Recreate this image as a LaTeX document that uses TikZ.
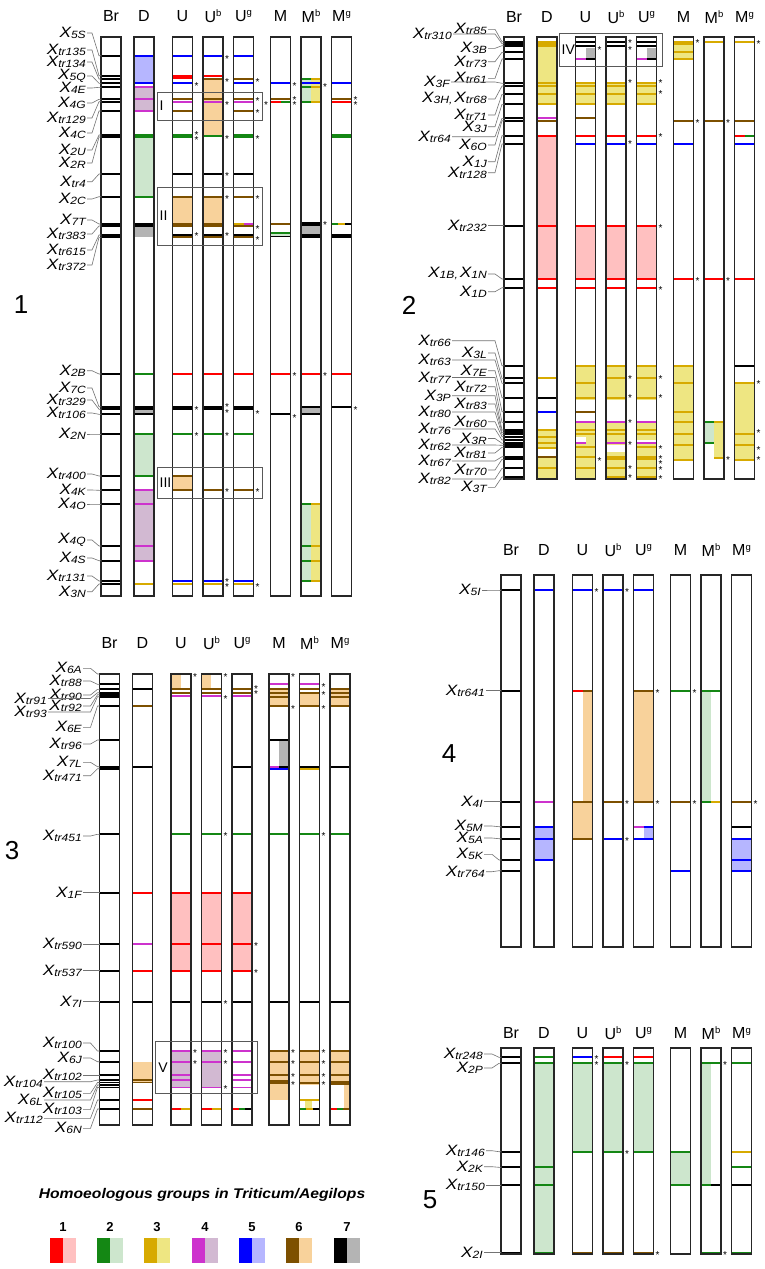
\documentclass[tikz,border=0pt]{standalone}
\usepackage{fontspec}
\setmainfont{Liberation Sans}
\setsansfont{Liberation Sans}
\usepackage{graphicx}
\definecolor{d1}{RGB}{255,0,0}\definecolor{l1}{RGB}{255,192,192}
\definecolor{d2}{RGB}{20,135,20}\definecolor{l2}{RGB}{205,230,205}
\definecolor{d3}{RGB}{215,170,0}\definecolor{l3}{RGB}{238,230,130}
\definecolor{d4}{RGB}{205,50,205}\definecolor{l4}{RGB}{210,185,210}
\definecolor{d5}{RGB}{0,0,255}\definecolor{l5}{RGB}{182,182,255}
\definecolor{d6}{RGB}{125,80,0}\definecolor{l6}{RGB}{248,210,155}
\definecolor{d7}{RGB}{0,0,0}\definecolor{l7}{RGB}{180,180,180}
\newcounter{nnc}
\def\kBr{0}\def\kD{33}\def\kU{71.5}\def\kUb{102}\def\kUg{132.5}\def\kM{169.5}\def\kMb{200}\def\kMg{230.5}
\newcommand{\mk}[3]{\draw[ml,#3] ({\bx+#1},#2) -- ({\bx+#1+20},#2);}
\newcommand{\mkh}[4]{\draw[ml,#3] ({\bx+#1},#2) -- ({\bx+#1+10},#2);\draw[ml,#4] ({\bx+#1+10},#2) -- ({\bx+#1+20},#2);}
\newcommand{\mkt}[5]{\draw[ml,#3] ({\bx+#1},#2) -- ({\bx+#1+6.7},#2);\draw[ml,#4] ({\bx+#1+6.7},#2) -- ({\bx+#1+13.3},#2);\draw[ml,#5] ({\bx+#1+13.3},#2) -- ({\bx+#1+20},#2);}
\newcommand{\mkL}[3]{\draw[ml,#3] ({\bx+#1},#2) -- ({\bx+#1+10},#2);}
\newcommand{\mkR}[3]{\draw[ml,#3] ({\bx+#1+10},#2) -- ({\bx+#1+20},#2);}
\newcommand{\fl}[4]{\fill[#4] ({\bx+#1},#2) rectangle ({\bx+#1+20},#3);}
\newcommand{\flL}[4]{\fill[#4] ({\bx+#1},#2) rectangle ({\bx+#1+10},#3);}
\newcommand{\flR}[4]{\fill[#4] ({\bx+#1+10},#2) rectangle ({\bx+#1+20},#3);}
\newcommand{\sk}[2]{\stepcounter{nnc}\node[astk] (s\arabic{nnc}) at ({\bx+#1+24},{#2+5.5}) {*};}
\newcommand{\cols}[2]{\foreach \cq in {\kBr,\kD,\kU,\kUb,\kUg,\kM,\kMb,\kMg}{\draw[colb] ({\bx+\cq},#1) rectangle ({\bx+\cq+20},#2);}}
\newcommand{\spx}[1]{\raisebox{5.5pt}{\fontsize{9.5}{9.5}\selectfont #1}}
\newcommand{\hdrs}[2]{%
 \node[hd] (#2br) at ({\bx+\kBr+10},#1) {Br};
 \node[hd] (#2d) at ({\bx+\kD+10},#1) {D};
 \node[hd] (#2u) at ({\bx+\kU+10},#1) {U};
 \node[hd] (#2ub) at ({\bx+\kUb+10},#1) {U\spx{b}};
 \node[hd] (#2ug) at ({\bx+\kUg+10},#1) {U\spx{g}};
 \node[hd] (#2m) at ({\bx+\kM+10},#1) {M};
 \node[hd] (#2mb) at ({\bx+\kMb+10},#1) {M\spx{b}};
 \node[hd] (#2mg) at ({\bx+\kMg+10},#1) {M\spx{g}};}
\newcommand{\X}[1]{\scalebox{1.15}[1]{\fontsize{15}{15}\selectfont\itshape X\raisebox{-1pt}{\fontsize{10.5}{10.5}\selectfont #1}}}
\newcommand{\lab}[5]{\node[lbl] (#1) at (#2,#3) {#5};\draw[leader] (#1.east) -- ({\bx-9},#3) -- ({\bx-2},#4) -- ({\bx},#4);}
\newcommand{\grp}[6]{\draw[grpbox] (#2,#3) rectangle (#4,#5);\node[boxl] (#1) at ({#2+2.5},{(#3+#5)/2}) {#6};}
\begin{document}
\begin{tikzpicture}[x=1pt,y=-1pt,
 ml/.style={line width=1.7pt},
 colb/.style={draw=black!85,line width=1.1pt},
 astk/.style={font=\fontsize{10}{10}\selectfont,inner sep=0pt,anchor=base},
 hd/.style={font=\fontsize{16}{16}\selectfont,inner sep=0pt},
 lbl/.style={inner sep=0pt,anchor=east},
 leader/.style={draw=black!55,line width=0.6pt,shorten <=1.2pt},
 grpbox/.style={draw=black!65,line width=0.8pt},
 boxl/.style={font=\fontsize{14}{14}\selectfont,inner sep=0pt,anchor=west},
 pnum/.style={font=\fontsize{26}{26}\selectfont,inner sep=0pt},
 lgt/.style={font=\bfseries\itshape\fontsize{14}{14}\selectfont,inner sep=0pt},
 lgn/.style={font=\bfseries\fontsize{13}{13}\selectfont,inner sep=0pt}]
\useasboundingbox (0,0) rectangle (764,1269);
\fill[white] (0,0) rectangle (764,1269);
%%%%%%%%%%%%%%%%%%%% PANEL 1
\def\bx{101}
\fl{\kD}{55.7}{83.3}{l5}\fl{\kD}{87.3}{111}{l4}\fl{\kD}{137}{196.7}{l2}\fl{\kD}{226}{237.3}{l7}
\fl{\kD}{406.7}{414.3}{l7}\fl{\kD}{434}{476}{l2}\fl{\kD}{490.3}{560.7}{l4}
\fl{\kUb}{79}{136}{l6}\fl{\kU}{196.7}{225}{l6}\fl{\kUb}{196.7}{225}{l6}\fl{\kU}{476}{490.3}{l6}
\fl{\kU}{406.7}{409.3}{l7}\fl{\kUb}{406.7}{409.3}{l7}\fl{\kUg}{406.7}{409.3}{l7}
\flL{\kMb}{79}{101.7}{l2}\flR{\kMb}{79}{101.7}{l3}
\fl{\kM}{233}{235.5}{l2}\fl{\kMb}{224}{237.3}{l7}\fl{\kMg}{235}{237.3}{l7}\fl{\kMb}{406.7}{414.3}{l7}
\flL{\kMb}{504}{581}{l2}\flR{\kMb}{504}{581}{l3}
\foreach \y in {55.7,75.7,79,83.3,87.3,99.3,101.7,111,135,137,174,196.7,224,226,235,237.3,374,406.7,409.3,414.3,434,476,490.3,504,546,560.7,581,584}{\mk{\kBr}{\y}{d7}}
\mk{\kD}{55.7}{d5}\mk{\kD}{83.3}{d5}\mk{\kD}{87.3}{d4}\mk{\kD}{99.3}{d4}\mk{\kD}{111}{d4}\mk{\kD}{135}{d2}\mk{\kD}{137}{d2}\mk{\kD}{196.7}{d2}\mk{\kD}{224}{d7}\mk{\kD}{226}{d7}
\mk{\kD}{374}{d2}\mk{\kD}{406.7}{d7}\mk{\kD}{409.3}{d7}\mk{\kD}{414.3}{d7}\mk{\kD}{434}{d2}\mk{\kD}{476}{d2}\mk{\kD}{490.3}{d4}\mk{\kD}{504}{d4}\mk{\kD}{546}{d4}\mk{\kD}{560.7}{d4}\mk{\kD}{584}{d3}
\mk{\kU}{55.7}{d5}\mk{\kU}{75.7}{d1}\mk{\kU}{77.9}{d1}\mk{\kU}{83.3}{d5}\mk{\kU}{99.3}{d6}\mk{\kU}{101.7}{d4}\mk{\kU}{111}{d6}\mk{\kU}{135}{d2}\mk{\kU}{137}{d2}\mk{\kU}{174}{d7}\mk{\kU}{196.7}{d6}\mk{\kU}{224}{d6}\mk{\kU}{226}{d6}\mk{\kU}{235}{d7}\mk{\kU}{237.3}{d6}
\mk{\kU}{374}{d1}\mk{\kU}{406.7}{d7}\mk{\kU}{409.3}{d7}\mk{\kU}{434}{d2}\mk{\kU}{476}{d6}\mk{\kU}{490.3}{d6}\mk{\kU}{581}{d5}\mk{\kU}{584}{d3}
\mk{\kUb}{55.7}{d5}\mk{\kUb}{75.7}{d1}\mk{\kUb}{79}{d6}\mk{\kUb}{99.3}{d6}\mk{\kUb}{101.7}{d4}\mk{\kUb}{136}{d2}\mk{\kUb}{174}{d7}\mk{\kUb}{196.7}{d6}\mk{\kUb}{224}{d6}\mk{\kUb}{226}{d6}\mk{\kUb}{235}{d7}\mk{\kUb}{237.3}{d6}
\mk{\kUb}{374}{d1}\mk{\kUb}{406.7}{d7}\mk{\kUb}{409.3}{d7}\mk{\kUb}{434}{d2}\mk{\kUb}{490.3}{d6}\mk{\kUb}{581}{d5}\mk{\kUb}{584}{d3}
\mk{\kUg}{55.7}{d5}\mk{\kUg}{79}{d6}\mk{\kUg}{83.3}{d5}\mk{\kUg}{99.3}{d6}\mk{\kUg}{101.7}{d4}\mk{\kUg}{111}{d6}\mk{\kUg}{135}{d2}\mk{\kUg}{137}{d2}\mk{\kUg}{174}{d7}\mk{\kUg}{196.7}{d6}\mkh{\kUg}{224}{d3}{d4}\mk{\kUg}{226}{d6}\mk{\kUg}{235}{d7}\mk{\kUg}{237.3}{d6}
\mk{\kUg}{374}{d1}\mk{\kUg}{406.7}{d7}\mk{\kUg}{409.3}{d7}\mk{\kUg}{434}{d2}\mk{\kUg}{490.3}{d6}\mk{\kUg}{581}{d5}\mk{\kUg}{584}{d3}
\mk{\kM}{83.3}{d5}\mk{\kM}{99.3}{d6}\mkh{\kM}{101.7}{d1}{d2}\mk{\kM}{224}{d6}\mk{\kM}{233}{d2}\mk{\kM}{236.5}{d7}\mk{\kM}{374}{d1}\mk{\kM}{414.3}{d7}
\mkh{\kMb}{79}{d2}{d3}\mk{\kMb}{83.3}{d5}\mkh{\kMb}{87.3}{d2}{d3}\mkh{\kMb}{101.7}{d2}{d3}\mk{\kMb}{223}{d7}\mk{\kMb}{225}{d7}\mk{\kMb}{235}{d7}\mk{\kMb}{237.3}{d7}
\mk{\kMb}{374}{d1}\mk{\kMb}{406.7}{d7}\mk{\kMb}{414.3}{d7}\mkh{\kMb}{504}{d2}{d3}\mkh{\kMb}{546}{d2}{d3}\mkh{\kMb}{560.7}{d2}{d3}\mkh{\kMb}{581}{d2}{d3}
\mk{\kMg}{83.3}{d5}\mk{\kMg}{99.3}{d6}\mk{\kMg}{101.7}{d1}\mk{\kMg}{135}{d2}\mk{\kMg}{137}{d2}\mkt{\kMg}{224}{d2}{d3}{d7}\mk{\kMg}{235}{d7}\mk{\kMg}{237.3}{d7}\mk{\kMg}{374}{d1}\mk{\kMg}{406.7}{d7}
\cols{37}{596}
\sk{\kU}{84.3}\sk{\kU}{133.3}\sk{\kU}{137.5}\sk{\kU}{234}\sk{\kU}{407.7}\sk{\kU}{434}
\sk{\kUb}{56.7}\sk{\kUb}{79.7}\sk{\kUb}{102.7}\sk{\kUb}{136.7}\sk{\kUb}{174}\sk{\kUb}{196.7}\sk{\kUb}{234}\sk{\kUb}{405.3}\sk{\kUb}{411}\sk{\kUb}{434}\sk{\kUb}{490.3}\sk{\kUb}{579.5}\sk{\kUb}{585}
\sk{\kUg}{80}\sk{\kUg}{99.3}\sk{\kUg}{111}\sk{\kUg}{136.7}\sk{\kUg}{196.7}\sk{\kUg}{226.7}\sk{\kUg}{237.7}\sk{\kUg}{412}\sk{\kUg}{490.3}\sk{\kUg}{585}
\sk{\kM}{84}\sk{\kM}{97.9}\sk{\kM}{103.4}\sk{\kM}{373.5}\sk{\kM}{416}
\sk{\kMb}{85}\sk{\kMb}{223.3}\sk{\kMb}{373.5}
\sk{\kMg}{97.9}\sk{\kMg}{102.9}\sk{\kMg}{407.8}
\node[astk] (sx1) at (266,108.5) {*};
\grp{g1}{157}{92}{262}{120}{I}
\grp{g2}{157}{187}{262}{245}{II}
\grp{g3}{157}{467}{262}{498}{III}
\hdrs{16}{h1}
\lab{a1}{86}{33}{55.7}{\X{5S}}
\lab{a2}{86}{50}{75.7}{\X{tr135}}
\lab{a3}{86}{62}{79}{\X{tr134}}
\lab{a4}{86}{76}{83.3}{\X{5Q}}
\lab{a5}{86}{88}{87.3}{\X{4E}}
\lab{a6}{86}{103}{99.3}{\X{4G}}
\lab{a7}{86}{118}{101.7}{\X{tr129}}
\lab{a8}{86}{133}{111}{\X{4C}}
\lab{a9}{86}{150}{135}{\X{2U}}
\lab{a10}{86}{163}{137}{\X{2R}}
\lab{a11}{86}{181.7}{174}{\X{tr4}}
\lab{a12}{86}{199}{196.7}{\X{2C}}
\lab{a13}{86}{220}{224}{\X{7T}}
\lab{a14}{86}{234}{226}{\X{tr383}}
\lab{a15}{86}{250}{235}{\X{tr615}}
\lab{a16}{86}{265}{237.3}{\X{tr372}}
\lab{a17}{86}{370.7}{374}{\X{2B}}
\lab{a18}{86}{388}{406.7}{\X{7C}}
\lab{a19}{86}{400}{409.3}{\X{tr329}}
\lab{a20}{86}{413}{414.3}{\X{tr106}}
\lab{a21}{86}{434}{434}{\X{2N}}
\lab{a22}{86}{474}{476}{\X{tr400}}
\lab{a23}{86}{490}{490.3}{\X{4K}}
\lab{a24}{86}{504}{504}{\X{4O}}
\lab{a25}{86}{540}{546}{\X{4Q}}
\lab{a26}{86}{558}{560.7}{\X{4S}}
\lab{a27}{86}{576}{581}{\X{tr131}}
\lab{a28}{86}{591.7}{584}{\X{3N}}
\node[pnum] (n1) at (21,305) {1};
%%%%%%%%%%%%%%%%%%%% PANEL 2
\def\bx{504}
\fl{\kD}{41.7}{104.3}{l3}\fl{\kD}{135.7}{279}{l1}\fl{\kD}{430}{448}{l3}\fl{\kD}{456.7}{479}{l3}
\flR{\kU}{47.5}{59}{l7}\fl{\kU}{83.3}{104.3}{l3}\fl{\kU}{225.7}{279}{l1}\fl{\kU}{365.7}{400}{l3}\fl{\kU}{422.3}{479}{l3}
\fill[white] ({\bx+\kU},437) rectangle ({\bx+\kU+10},443.3);
\fl{\kUb}{83.3}{104.3}{l3}\fl{\kUb}{225.7}{279}{l1}\fl{\kUb}{365.7}{400}{l3}\fl{\kUb}{422.3}{445}{l3}\fl{\kUb}{451.7}{479}{l3}
\flR{\kUg}{47.5}{59}{l7}\fl{\kUg}{83.3}{104.3}{l3}\fl{\kUg}{225.7}{279}{l1}\fl{\kUg}{365.7}{400}{l3}\fl{\kUg}{422.3}{440}{l3}\fl{\kUg}{443.3}{479}{l3}
\fl{\kM}{41.7}{59}{l3}\fl{\kM}{365.7}{460}{l3}
\flL{\kMb}{422.3}{443.3}{l2}\flR{\kMb}{422.3}{458.3}{l3}
\fl{\kMg}{383.3}{460}{l3}
\foreach \y in {41.7,43.7,45.7,52.3,59,83.3,86,94.3,104.3,118.3,120.7,135.7,144,225.7,279,287.7,365.7,378.3,383.3,397.7,411.7,422.3,430,432.3,434.3,436.7,440,443.3,445.3,447.3,456.7,459.3,468.3,477}{\mk{\kBr}{\y}{d7}}
\foreach \y in {41.7,43.7,45.7,83.3,86,94.3,104.3,378.3,430,436.7,443.3,448,468.3}{\mk{\kD}{\y}{d3}}
\mk{\kD}{118.3}{d4}\mk{\kD}{120.7}{d6}\mk{\kD}{135.7}{d1}\mk{\kD}{225.7}{d1}\mk{\kD}{279}{d1}\mk{\kD}{287.7}{d1}\mk{\kD}{397.7}{d7}\mk{\kD}{411.7}{d5}\mk{\kD}{456.7}{d6}
\mk{\kU}{41.7}{d7}\mk{\kU}{45.7}{d7}\mkh{\kU}{59}{d4}{d7}
\foreach \y in {83.3,86,94.3,104.3,365.7,383.3,397.7,430,434.3,447.3,456.7,468.3}{\mk{\kU}{\y}{d3}}
\mk{\kU}{118.3}{d6}\mk{\kU}{135.7}{d1}\mk{\kU}{144}{d5}\mk{\kU}{225.7}{d1}\mk{\kU}{279}{d1}\mk{\kU}{287.7}{d1}\mk{\kU}{411.7}{d6}\mk{\kU}{422.3}{d4}\mkL{\kU}{443.3}{d4}
\mk{\kUb}{41.7}{d7}\mk{\kUb}{45.7}{d7}
\foreach \y in {83.3,86,94.3,104.3,365.7,378.3,397.7,430,434.3,456.7,459.3,468.3,477}{\mk{\kUb}{\y}{d3}}
\mk{\kUb}{135.7}{d1}\mk{\kUb}{144}{d5}\mk{\kUb}{225.7}{d1}\mk{\kUb}{279}{d1}\mk{\kUb}{287.7}{d1}\mk{\kUb}{422.3}{d4}\mk{\kUb}{443.3}{d4}
\mk{\kUg}{41.7}{d7}\mk{\kUg}{45.7}{d7}\mkh{\kUg}{59}{d4}{d7}
\foreach \y in {83.3,86,94.3,104.3,365.7,378.3,397.7,430,434.3,447.3,456.7,459.3,468.3,477}{\mk{\kUg}{\y}{d3}}
\mk{\kUg}{135.7}{d1}\mk{\kUg}{144}{d5}\mk{\kUg}{225.7}{d1}\mk{\kUg}{279}{d1}\mk{\kUg}{287.7}{d1}\mk{\kUg}{422.3}{d4}\mk{\kUg}{443.3}{d4}
\foreach \y in {41.7,44,52.3,59,365.7,383.3,411.7,422.3,434.3,445.3,460}{\mk{\kM}{\y}{d3}}
\mk{\kM}{120.7}{d6}\mk{\kM}{144}{d5}\mk{\kM}{279}{d1}
\mk{\kMb}{41.7}{d3}\mk{\kMb}{120.7}{d6}\mk{\kMb}{279}{d1}\mkh{\kMb}{422.3}{d2}{d3}\mkL{\kMb}{443.3}{d2}\mkR{\kMb}{458.3}{d3}
\mk{\kMg}{41.7}{d3}\mk{\kMg}{120.7}{d6}\mkh{\kMg}{135.7}{d1}{d2}\mk{\kMg}{144}{d5}\mk{\kMg}{279}{d1}\mk{\kMg}{365.7}{d7}
\foreach \y in {383.3,434.3,445.3,460}{\mk{\kMg}{\y}{d3}}
\cols{37}{479}
\sk{\kU}{47.7}\sk{\kU}{459.3}
\foreach \y in {41,47.7,81,141.7,376.7,395.7,420.7,442.7,466.7,476}{\sk{\kUb}{\y}}
\foreach \y in {81,91.7,135,225.7,287.7,376.7,395.7,446.7,456.7,462.3,468.3,476.7}{\sk{\kUg}{\y}}
\sk{\kM}{41}\sk{\kM}{120.7}\sk{\kM}{279}
\sk{\kMb}{120.7}\sk{\kMb}{279}\sk{\kMb}{458.3}
\sk{\kMg}{42}\sk{\kMg}{381.7}\sk{\kMg}{431}\sk{\kMg}{448.3}\sk{\kMg}{458.3}
\grp{g4}{559}{33}{662}{66}{IV}
\hdrs{17}{h2}
\lab{b1}{487}{29.3}{41.7}{\X{tr85}}
\lab{b2}{452}{34}{43.7}{\X{tr310}}
\lab{b3}{487}{48.3}{45.7}{\X{3B}}
\lab{b4}{487}{61.7}{52.3}{\X{tr73}}
\lab{b5}{487}{78.3}{59}{\X{tr61}}
\lab{b6}{450}{82}{83.3}{\X{3F}}
\lab{b7}{487}{99}{86}{\X{3H,}\hspace{2pt}\X{tr68}}
\lab{b8}{487}{115}{94.3}{\X{tr71}}
\lab{b9}{487}{126.7}{104.3}{\X{3J}}
\lab{b10}{451}{136.7}{118.3}{\X{tr64}}
\lab{b11}{487}{145}{120.7}{\X{6O}}
\lab{b12}{487}{161.7}{135.7}{\X{1J}}
\lab{b13}{487}{172.7}{144}{\X{tr128}}
\lab{b14}{487}{225.7}{225.7}{\X{tr232}}
\lab{b15}{487}{274}{279}{\X{1B,}\hspace{2pt}\X{1N}}
\lab{b16}{487}{291.7}{287.7}{\X{1D}}
\lab{b17}{451}{340.7}{365.7}{\X{tr66}}
\lab{b18}{487}{353}{378.3}{\X{3L}}
\lab{b19}{451}{360}{383.3}{\X{tr63}}
\lab{b20}{487}{370.7}{397.7}{\X{7E}}
\lab{b21}{451}{377.5}{411.7}{\X{tr77}}
\lab{b22}{487}{386.7}{422.3}{\X{tr72}}
\lab{b23}{451}{395.7}{430}{\X{3P}}
\lab{b24}{487}{404}{432.3}{\X{tr83}}
\lab{b25}{451}{412}{434.3}{\X{tr80}}
\lab{b26}{487}{421.7}{436.7}{\X{tr60}}
\lab{b27}{451}{429}{440}{\X{tr76}}
\lab{b28}{487}{438.5}{443.3}{\X{3R}}
\lab{b29}{451}{445}{445.3}{\X{tr62}}
\lab{b30}{487}{453}{447.3}{\X{tr81}}
\lab{b31}{451}{461}{456.7}{\X{tr67}}
\lab{b32}{487}{470}{459.3}{\X{tr70}}
\lab{b33}{451}{479}{468.3}{\X{tr82}}
\lab{b34}{487}{487.3}{477}{\X{3T}}
\node[pnum] (n2) at (409,305) {2};
%%%%%%%%%%%%%%%%%%%% PANEL 3
\def\bx{99.5}
\fl{\kD}{1061.7}{1081.7}{l6}
\fill[l6] ({\bx+\kU},674) rectangle ({\bx+\kU+9.5},689.3);\fl{\kU}{892.7}{970.7}{l1}\fl{\kU}{1051}{1087.5}{l4}
\fill[l6] ({\bx+\kUb},674) rectangle ({\bx+\kUb+9.5},689.3);\fl{\kUb}{892.7}{970.7}{l1}\fl{\kUb}{1051}{1087.5}{l4}
\fl{\kUg}{892.7}{970.7}{l1}
\fl{\kM}{689.3}{706}{l6}\flR{\kM}{740}{766.7}{l7}\fl{\kM}{1051}{1100}{l6}
\fl{\kMb}{692.7}{706}{l6}\fl{\kMb}{1051}{1085}{l6}\fill[l3] ({\bx+\kMb+5},1100) rectangle ({\bx+\kMb+12},1109);
\fl{\kMg}{689.3}{706}{l6}\fl{\kMg}{1051}{1083}{l6}\fill[l6] ({\bx+\kMg+14},1083) rectangle ({\bx+\kMg+20},1109);
\foreach \y in {674,684.3,689.3,692.7,694.7,696.7,706,740,766.7,768.7,834.3,892.7,944,970.7,1001.7,1051,1061.7,1075,1080,1082.5,1085,1087.5,1100,1109}{\mk{\kBr}{\y}{d7}}
\mk{\kD}{674}{d6}\mk{\kD}{689.3}{d7}\mk{\kD}{706}{d6}\mk{\kD}{766.7}{d7}\mk{\kD}{892.7}{d1}\mk{\kD}{944}{d4}\mk{\kD}{970.7}{d1}\mk{\kD}{1001.7}{d7}\mk{\kD}{1080}{d6}\mk{\kD}{1082.5}{d6}\mk{\kD}{1100}{d1}\mk{\kD}{1109}{d6}
\mk{\kU}{674}{d7}\mk{\kU}{689.3}{d6}\mk{\kU}{692.7}{d6}\mk{\kU}{696}{d4}\mk{\kU}{834.3}{d2}\mk{\kU}{892.7}{d1}\mk{\kU}{944}{d1}\mk{\kU}{970.7}{d1}\mk{\kU}{1001.7}{d7}
\foreach \y in {1051,1061.7,1075,1080,1087.5}{\mk{\kU}{\y}{d4}}\mkh{\kU}{1109}{d1}{d3}
\mk{\kUb}{674}{d7}\mk{\kUb}{689.3}{d6}\mk{\kUb}{692.7}{d6}\mk{\kUb}{696}{d4}\mk{\kUb}{834.3}{d2}\mk{\kUb}{892.7}{d1}\mk{\kUb}{944}{d1}\mk{\kUb}{970.7}{d1}\mk{\kUb}{1001.7}{d7}
\foreach \y in {1051,1061.7,1087.5}{\mk{\kUb}{\y}{d4}}\mkh{\kUb}{1109}{d1}{d3}
\mk{\kUg}{674}{d7}\mk{\kUg}{689.3}{d6}\mk{\kUg}{692.7}{d6}\mk{\kUg}{696}{d4}\mk{\kUg}{766.7}{d7}\mk{\kUg}{834.3}{d2}\mk{\kUg}{892.7}{d1}\mk{\kUg}{944}{d1}\mk{\kUg}{970.7}{d1}\mk{\kUg}{1001.7}{d7}
\foreach \y in {1051,1061.7,1075,1080,1087.5}{\mk{\kUg}{\y}{d4}}\mkt{\kUg}{1109}{d1}{d2}{d7}
\mk{\kM}{674}{d7}\mk{\kM}{684.3}{d4}\foreach \y in {689.3,692.7,696.7,706}{\mk{\kM}{\y}{d6}}\mk{\kM}{740}{d7}\mkh{\kM}{766.7}{d4}{d7}\mk{\kM}{768.7}{d5}\mk{\kM}{834.3}{d2}\mk{\kM}{1001.7}{d7}
\foreach \y in {1051,1061.7,1075,1081,1083}{\mk{\kM}{\y}{d6}}
\mk{\kMb}{674}{d7}\mk{\kMb}{684.3}{d4}\foreach \y in {689.3,692.7,706}{\mk{\kMb}{\y}{d6}}\mk{\kMb}{766.7}{d7}\mk{\kMb}{768.7}{d3}\mk{\kMb}{834.3}{d2}\mk{\kMb}{1001.7}{d7}
\foreach \y in {1051,1061.7,1075,1083}{\mk{\kMb}{\y}{d6}}\mk{\kMb}{1100}{d3}\mkt{\kMb}{1109}{d2}{d3}{d7}
\mk{\kMg}{674}{d7}\foreach \y in {689.3,692.7,696.7,706}{\mk{\kMg}{\y}{d6}}\mk{\kMg}{766.7}{d7}\mk{\kMg}{834.3}{d2}\mk{\kMg}{1001.7}{d7}
\foreach \y in {1051,1061.7,1075,1082,1084}{\mk{\kMg}{\y}{d6}}\mkt{\kMg}{1109}{d1}{d2}{d6}
\cols{674}{1125}
\sk{\kU}{675}\sk{\kU}{1051}\sk{\kU}{1061.7}
\foreach \y in {675,697.3,834.3,1001.7,1051,1061.7,1086.7}{\sk{\kUb}{\y}}
\sk{\kUg}{687}\sk{\kUg}{691.5}\sk{\kUg}{944}\sk{\kUg}{970.7}
\foreach \y in {675,707,1051,1061.7,1075,1083}{\sk{\kM}{\y}}
\foreach \y in {685,693.3,706.7,834.3,1051,1061.7,1075,1083}{\sk{\kMb}{\y}}
\grp{g5}{155.7}{1041.7}{257.7}{1093.3}{V}
\hdrs{643}{h3}
\lab{c1}{82}{668.3}{674}{\X{6A}}
\lab{c2}{82}{681}{684.3}{\X{tr88}}
\lab{c3}{82}{695}{689.3}{\X{tr90}}
\lab{c4}{47}{698.5}{692.7}{\X{tr91}}
\lab{c5}{82}{706}{694.7}{\X{tr92}}
\lab{c6}{47}{712}{696.7}{\X{tr93}}
\lab{c7}{82}{727.3}{706}{\X{6E}}
\lab{c8}{82}{744}{740}{\X{tr96}}
\lab{c9}{82}{762.3}{766.7}{\X{7L}}
\lab{c10}{82}{775.7}{768.7}{\X{tr471}}
\lab{c11}{82}{836}{834.3}{\X{tr451}}
\lab{c12}{82}{892.7}{892.7}{\X{1F}}
\lab{c13}{82}{944}{944}{\X{tr590}}
\lab{c14}{82}{970.7}{970.7}{\X{tr537}}
\lab{c15}{82}{1001.7}{1001.7}{\X{7I}}
\lab{c16}{82}{1043}{1051}{\X{tr100}}
\lab{c17}{82}{1058}{1061.7}{\X{6J}}
\lab{c18}{82}{1075}{1075}{\X{tr102}}
\lab{c19}{43}{1081.7}{1080}{\X{tr104}}
\lab{c20}{82}{1093.3}{1082.5}{\X{tr105}}
\lab{c21}{43}{1100}{1085}{\X{6L}}
\lab{c22}{82}{1109.3}{1087.5}{\X{tr103}}
\lab{c23}{43}{1118.3}{1100}{\X{tr112}}
\lab{c24}{82}{1128.3}{1109}{\X{6N}}
\node[pnum] (n3) at (12,851) {3};
%%%%%%%%%%%%%%%%%%%% PANEL 4
\def\bx{501}
\fl{\kD}{826.7}{860}{l5}
\flR{\kU}{690.7}{801.7}{l6}\fl{\kU}{801.7}{838.7}{l6}
\fl{\kUg}{690.7}{801.7}{l6}\flR{\kUg}{826.7}{838.7}{l5}
\flL{\kMb}{690.7}{801.7}{l2}
\fl{\kMg}{838.7}{870.7}{l5}
\foreach \y in {590,690.7,801.7,826.7,838.7,860,870.7}{\mk{\kBr}{\y}{d7}}
\mk{\kD}{590}{d5}\mk{\kD}{801.7}{d4}\mk{\kD}{826.7}{d5}\mk{\kD}{838.7}{d5}\mk{\kD}{860}{d5}
\mk{\kU}{590}{d5}\mkh{\kU}{690.7}{d1}{d6}\mk{\kU}{801.7}{d6}\mk{\kU}{838.7}{d6}
\mk{\kUb}{590}{d5}\mk{\kUb}{801.7}{d6}\mk{\kUb}{838.7}{d5}
\mk{\kUg}{590}{d5}\mk{\kUg}{690.7}{d6}\mk{\kUg}{801.7}{d6}\mkh{\kUg}{826.7}{d4}{d5}\mk{\kUg}{838.7}{d5}
\mk{\kM}{690.7}{d2}\mk{\kM}{801.7}{d6}\mk{\kM}{870.7}{d5}
\mk{\kMb}{690.7}{d2}\mkh{\kMb}{801.7}{d2}{d3}
\mk{\kMg}{801.7}{d6}\mk{\kMg}{826.7}{d7}\mk{\kMg}{838.7}{d5}\mk{\kMg}{860}{d5}\mk{\kMg}{870.7}{d5}
\cols{575}{947}
\sk{\kU}{590}\sk{\kUb}{590}\sk{\kUb}{801.7}\sk{\kUb}{838.7}\sk{\kUg}{690.7}\sk{\kUg}{801.7}\sk{\kM}{690.7}\sk{\kM}{801.7}\sk{\kMg}{801.7}
\hdrs{550}{h4}
\lab{e1}{481}{590}{590}{\X{5I}}
\lab{e2}{485}{690.7}{690.7}{\X{tr641}}
\lab{e3}{483}{801.7}{801.7}{\X{4I}}
\lab{e4}{483}{826}{826.7}{\X{5M}}
\lab{e5}{483}{838}{838.7}{\X{5A}}
\lab{e6}{483}{854.3}{860}{\X{5K}}
\lab{e7}{485}{871.7}{870.7}{\X{tr764}}
\node[pnum] (n4) at (449,754) {4};
%%%%%%%%%%%%%%%%%%%% PANEL 5
\def\bx{501}
\fl{\kD}{1063.3}{1252.7}{l2}
\fl{\kU}{1063.3}{1151.7}{l2}\fl{\kUb}{1063.3}{1151.7}{l2}\fl{\kUg}{1063.3}{1151.7}{l2}
\fl{\kM}{1151.7}{1185}{l2}\flL{\kMb}{1063.3}{1185}{l2}
\foreach \y in {1057.3,1063.3,1151.7,1167.3,1185,1252.7}{\mk{\kBr}{\y}{d7}}
\foreach \y in {1057.3,1063.3,1167.3,1185,1252.7}{\mk{\kD}{\y}{d2}}
\mk{\kU}{1057.3}{d5}\mk{\kU}{1063.3}{d2}\mk{\kU}{1151.7}{d2}\mk{\kU}{1252.7}{d6}
\mk{\kUb}{1057.3}{d1}\mk{\kUb}{1063.3}{d2}\mk{\kUb}{1151.7}{d2}\mk{\kUb}{1252.7}{d6}
\mk{\kUg}{1057.3}{d1}\mk{\kUg}{1063.3}{d2}\mk{\kUg}{1151.7}{d2}\mk{\kUg}{1252.7}{d6}
\mk{\kM}{1151.7}{d2}\mk{\kM}{1185}{d2}
\mk{\kMb}{1063.3}{d2}\mkh{\kMb}{1185}{d2}{d7}\mk{\kMb}{1252.7}{d2}
\mk{\kMg}{1063.3}{d2}\mk{\kMg}{1151.7}{d3}\mk{\kMg}{1167.3}{d2}\mk{\kMg}{1185}{d7}\mk{\kMg}{1252.7}{d2}
\cols{1048}{1254}
\sk{\kU}{1057.3}\sk{\kU}{1063.3}\sk{\kUb}{1063.3}\sk{\kUb}{1151.7}\sk{\kUg}{1252.7}\sk{\kMb}{1063.3}\sk{\kMb}{1252.7}
\hdrs{1033}{h5}
\lab{f1}{483}{1054}{1057.3}{\X{tr248}}
\lab{f2}{483}{1068}{1063.3}{\X{2P}}
\lab{f3}{485}{1150.7}{1151.7}{\X{tr146}}
\lab{f4}{483}{1166.7}{1167.3}{\X{2K}}
\lab{f5}{485}{1185}{1185}{\X{tr150}}
\lab{f6}{483}{1252.7}{1252.7}{\X{2I}}
\node[pnum] (n5) at (430,1200) {5};
%%%%%%%%%%%%%%%%%%%% LEGEND
\node[lgt] (lt) at (202,1195) {\scalebox{1.12}[1]{Homoeologous groups in Triticum/Aegilops}};
\foreach \i/\xx in {1/63,2/110,3/157,4/205,5/252,6/299,7/347}{
 \node[lgn] (lg\i) at (\xx,1227) {\i};
 \fill[d\i] ({\xx-13},1238) rectangle (\xx,1263);
 \fill[l\i] (\xx,1238) rectangle ({\xx+13},1263);}
\end{tikzpicture}
\end{document}
